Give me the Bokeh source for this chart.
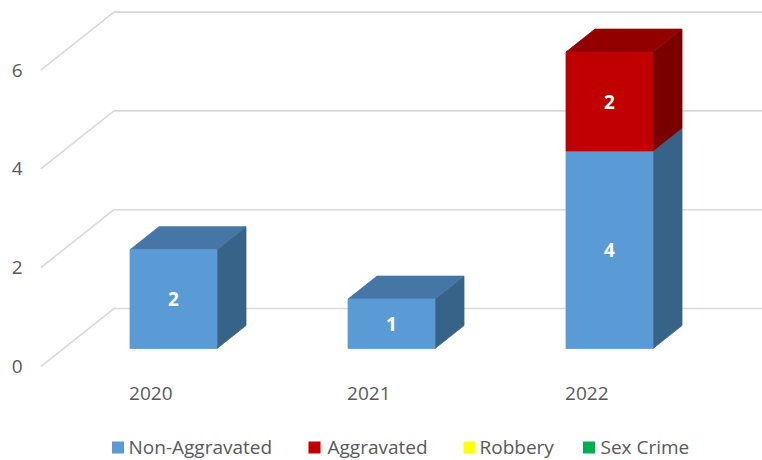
from bokeh.plotting import figure
from bokeh.models import Range1d
from bokeh.core.properties import value
from bokeh.embed import file_html
from bokeh.resources import INLINE

# ---------------- data ----------------
years = ["2020", "2021", "2022"]
series_names = ["Non-Aggravated", "Aggravated", "Robbery", "Sex Crime"]
non_aggravated = [2, 1, 4]
aggravated = [0, 0, 2]
robbery = [0, 0, 0]
sex_crime = [0, 0, 0]
y_ticks = [0, 2, 4, 6]

series_values = [non_aggravated, aggravated, robbery, sex_crime]

# ---------------- styles ----------------
front_colors = ["#5B9BD5", "#C00000", "#FFFF00", "#00B050"]
top_colors = ["#4676A5", "#930000", "#C4C400", "#008A3E"]
side_colors = ["#386389", "#7A0000", "#A3A300", "#00702F"]
TEXT_COLOR = "#595959"
GRID_COLOR = "#D9D9D9"
FONT = "Open Sans"

# ---------------- layout (page pixels -> data units) ----------------
W, H = 762, 460
ORG = 0                 # page offset of the figure
X0, KX = 173.0, 218.0   # page x of first category centre, px per category
Y0, KY = 348.0, 49.4    # page y of value 0 on bar front plane, px per unit


def dxp(px):
    return px / KX


def dyp(px):
    return px / KY


def px_x(page_x):
    return (page_x - X0) / KX


def px_y(page_y):
    return (Y0 - page_y) / KY


x_start, x_end = px_x(ORG), px_x(ORG + W)
y_start, y_end = px_y(ORG + H), px_y(ORG)

BAR_W = dxp(87)
DEPTH_X = dxp(29)
DEPTH_Y = dyp(23)
Z_FRONT = -0.783
Z_BACK = 1.739
WALL_X = px_x(63)

p = figure(width=W, height=H, output_backend="svg", toolbar_location=None,
           x_range=Range1d(x_start, x_end), y_range=Range1d(y_start, y_end),
           min_border=0, outline_line_color=None)
p.axis.visible = False
p.xgrid.visible = False
p.ygrid.visible = False
p.background_fill_color = "white"
p.border_fill_color = "white"

# ---------------- walls / gridlines ----------------
gx, gy = [], []
for v in y_ticks:
    gx.append([WALL_X + Z_FRONT * DEPTH_X, WALL_X + Z_BACK * DEPTH_X, x_end + 0.2])
    gy.append([v + Z_FRONT * DEPTH_Y, v + Z_BACK * DEPTH_Y, v + Z_BACK * DEPTH_Y])
p.multi_line(gx, gy, line_color=GRID_COLOR, line_width=1.6)

# y tick labels on the front plane of the side wall
p.text(x=[px_x(22)] * len(y_ticks),
       y=[v + Z_FRONT * DEPTH_Y for v in y_ticks],
       text=[str(v) for v in y_ticks],
       text_align="right", text_baseline="middle",
       text_color=TEXT_COLOR, text_font=value(FONT), text_font_size="19px")

# category labels at the front floor edge
p.text(x=[i + Z_FRONT * DEPTH_X for i in range(len(years))],
       y=[px_y(393)] * len(years),
       text=years, text_align="center", text_baseline="middle",
       text_color=TEXT_COLOR, text_font=value(FONT), text_font_size="19px")

# ---------------- 3D stacked bars ----------------
xs, ys, cols = [], [], []
lx, ly, lt = [], [], []
for i in range(len(years)):
    bottom = 0
    for s, vals in enumerate(series_values):
        v = vals[i]
        if v <= 0:
            continue
        top = bottom + v
        xl, xr = i - BAR_W / 2, i + BAR_W / 2
        # side face
        xs.append([xr, xr + DEPTH_X, xr + DEPTH_X, xr])
        ys.append([bottom, bottom + DEPTH_Y, top + DEPTH_Y, top])
        cols.append(side_colors[s])
        # top face
        xs.append([xl, xr, xr + DEPTH_X, xl + DEPTH_X])
        ys.append([top, top, top + DEPTH_Y, top + DEPTH_Y])
        cols.append(top_colors[s])
        # front face
        xs.append([xl, xr, xr, xl])
        ys.append([bottom, bottom, top, top])
        cols.append(front_colors[s])
        lx.append(i)
        ly.append(bottom + v / 2)
        lt.append(str(v))
        bottom = top

p.patches(xs, ys, fill_color=cols, line_color=cols, line_width=0.8)

p.text(x=lx, y=ly, text=lt, text_align="center", text_baseline="middle",
       text_color="white", text_font=value(FONT), text_font_size="19px",
       text_font_style="bold")

# ---------------- legend ----------------
leg_sq_x = [117.5, 314, 469, 588.5]
leg_tx_x = [128, 327, 479, 600]
leg_y = 446
p.rect(x=[px_x(v) for v in leg_sq_x], y=[px_y(leg_y + 1)] * 4,
       width=12, height=12, width_units="screen", height_units="screen",
       fill_color=front_colors, line_color=None)
p.text(x=[px_x(v) for v in leg_tx_x], y=[px_y(leg_y)] * 4,
       text=series_names, text_align="left", text_baseline="middle",
       text_color=TEXT_COLOR, text_font=value(FONT), text_font_size="19px")

open("out.html", "w").write(file_html(p, INLINE))
